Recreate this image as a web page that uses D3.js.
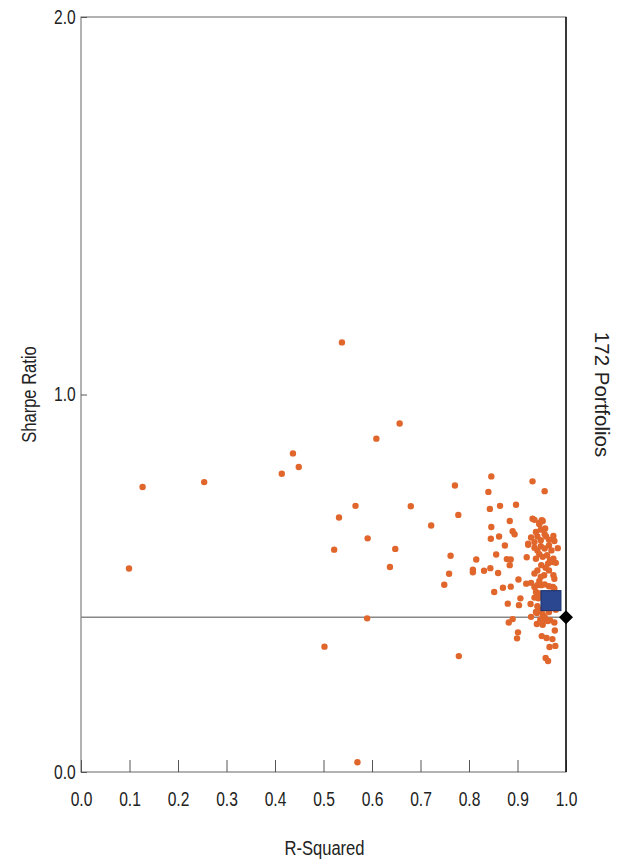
<!DOCTYPE html>
<html>
<head>
<meta charset="utf-8">
<script src="https://cdn.jsdelivr.net/npm/d3@7"></script>
<style>
  body { margin: 0; background: #fff; }
  svg text { font-family: "Liberation Sans", Arial, sans-serif; fill: #222; }
</style>
</head>
<body>
<div id="chart"></div>
<script>
// R-squared vs Sharpe ratio for the peer portfolios
const rSquared = [
  0.538, 0.657, 0.609, 0.437, 0.449, 0.414, 0.127, 0.254, 0.566, 0.680,
  0.532, 0.722, 0.591, 0.648, 0.522, 0.637, 0.099, 0.590, 0.502, 0.570,
  0.846, 0.771, 0.931, 0.956, 0.840, 0.864, 0.897, 0.843, 0.778, 0.846,
  0.884, 0.931, 0.945, 0.950, 0.957, 0.890, 0.894, 0.845, 0.862, 0.928,
  0.941, 0.959, 0.974, 0.874, 0.922, 0.983, 0.762, 0.856, 0.815, 0.878,
  0.886, 0.919, 0.884, 0.808, 0.808, 0.831, 0.844, 0.860, 0.759, 0.749,
  0.902, 0.918, 0.928, 0.886, 0.870, 0.852, 0.906, 0.880, 0.903, 0.927,
  0.928, 0.940, 0.890, 0.882, 0.940, 0.952, 0.962, 0.976, 0.901, 0.899,
  0.950, 0.960, 0.977, 0.972, 0.978, 0.966, 0.958, 0.963, 0.779,
  0.935, 0.945, 0.952, 0.938, 0.948, 0.956, 0.948, 0.935, 0.922, 0.965,
  0.976, 0.935, 0.941, 0.948, 0.956, 0.965, 0.970, 0.961, 0.952, 0.945,
  0.938, 0.967, 0.974, 0.963, 0.972, 0.979, 0.949, 0.958, 0.965, 0.941,
  0.935, 0.955, 0.974, 0.976, 0.948, 0.945, 0.941, 0.949, 0.956, 0.965,
  0.973, 0.976, 0.938, 0.945, 0.935, 0.941, 0.945, 0.938, 0.952, 0.956,
  0.943, 0.935, 0.954, 0.965, 0.979, 0.947, 0.958, 0.967
];
const sharpe = [
  1.138, 0.923, 0.883, 0.844, 0.808, 0.790, 0.755, 0.768, 0.705, 0.704,
  0.674, 0.653, 0.619, 0.591, 0.589, 0.543, 0.539, 0.407, 0.332, 0.026,
  0.783, 0.759, 0.770, 0.744, 0.742, 0.705, 0.708, 0.697, 0.681, 0.649,
  0.665, 0.671, 0.660, 0.667, 0.645, 0.638, 0.630, 0.618, 0.624, 0.621,
  0.624, 0.624, 0.625, 0.600, 0.602, 0.593, 0.573, 0.576, 0.563, 0.564,
  0.563, 0.569, 0.548, 0.536, 0.529, 0.533, 0.540, 0.527, 0.525, 0.496,
  0.510, 0.499, 0.501, 0.491, 0.488, 0.477, 0.460, 0.446, 0.442, 0.445,
  0.411, 0.421, 0.405, 0.396, 0.392, 0.390, 0.400, 0.396, 0.370, 0.354,
  0.360, 0.355, 0.375, 0.352, 0.334, 0.331, 0.302, 0.294, 0.307,
  0.668, 0.656, 0.665, 0.636, 0.642, 0.630, 0.614, 0.609, 0.605, 0.615,
  0.612, 0.594, 0.587, 0.598, 0.592, 0.600, 0.587, 0.574, 0.570, 0.577,
  0.565, 0.561, 0.565, 0.552, 0.556, 0.554, 0.548, 0.541, 0.534, 0.534,
  0.526, 0.521, 0.521, 0.512, 0.517, 0.506, 0.495, 0.495, 0.497, 0.492,
  0.490, 0.486, 0.477, 0.473, 0.490, 0.439, 0.429, 0.424, 0.418, 0.411,
  0.460, 0.462, 0.433, 0.424, 0.430, 0.404, 0.404, 0.402
];

// highlighted portfolio and benchmark
const portfolio = { r2: 0.969, sharpe: 0.454 };
const benchmark = { r2: 1.0, sharpe: 0.41 };

const xTicks = [0, 0.1, 0.2, 0.3, 0.4, 0.5, 0.6, 0.7, 0.8, 0.9, 1.0];
const yTicks = [0, 1, 2];
const xTitle = "R-Squared";
const yTitle = "Sharpe Ratio";
const countLabel = "172 Portfolios";

const margin = {top: 17, right: 61, bottom: 89, left: 81};
const width = 627 - margin.left - margin.right;
const height = 861 - margin.top - margin.bottom;

// tick labels are a narrow face in the original
const narrow = "scale(0.8,1)";

const svg = d3.select("#chart").append("svg")
  .attr("width", 627)
  .attr("height", 861);

const g = svg.append("g")
  .attr("transform", "translate(" + margin.left + "," + margin.top + ")");

const x = d3.scaleLinear().domain([0, 1]).range([0, width]);
const y = d3.scaleLinear().domain([0, 2]).range([height, 0]);

// frame
g.append("rect")
  .attr("width", width).attr("height", height)
  .attr("fill", "none").attr("stroke", "#666").attr("stroke-width", 1);

// inward ticks on x
const xAxis = g.append("g")
  .attr("transform", "translate(0," + height + ")")
  .call(d3.axisBottom(x).tickValues(xTicks).tickSizeInner(-12).tickSizeOuter(0)
    .tickPadding(20).tickFormat(d3.format(".1f")));
xAxis.select(".domain").remove();
xAxis.selectAll("line").attr("stroke", "#555");
xAxis.selectAll("text")
  .attr("font-size", 19.5).attr("fill", "#222").attr("transform", narrow);

const yAxis = g.append("g")
  .call(d3.axisLeft(y).tickValues(yTicks).tickSizeInner(-6).tickSizeOuter(0)
    .tickPadding(6.6).tickFormat(d3.format(".1f")));
yAxis.select(".domain").remove();
yAxis.selectAll("line").attr("stroke", "#555");
yAxis.selectAll("text")
  .attr("font-size", 19.5).attr("fill", "#222").attr("transform", narrow);

// benchmark sharpe line
g.append("line")
  .attr("x1", 0).attr("x2", width)
  .attr("y1", y(benchmark.sharpe)).attr("y2", y(benchmark.sharpe))
  .attr("stroke", "#888").attr("stroke-width", 1.3);

// R2 = 1 line
g.append("line")
  .attr("x1", x(1)).attr("x2", x(1))
  .attr("y1", 0).attr("y2", height)
  .attr("stroke", "#111").attr("stroke-width", 1.5);

const points = rSquared.map((d, i) => ({r2: d, sharpe: sharpe[i]}));

g.append("g").selectAll("circle")
  .data(points)
  .enter().append("circle")
    .attr("cx", d => x(d.r2))
    .attr("cy", d => y(d.sharpe))
    .attr("r", 3.2)
    .attr("fill", "#e0662c");

// portfolio square
g.append("rect")
  .attr("x", x(portfolio.r2) - 10)
  .attr("y", y(portfolio.sharpe) - 10)
  .attr("width", 20).attr("height", 20)
  .attr("fill", "#2a4790")
  .attr("stroke", "#1d336b").attr("stroke-width", 1);

// benchmark diamond
g.append("path")
  .attr("transform", "translate(" + x(benchmark.r2) + "," + y(benchmark.sharpe) + ")")
  .attr("d", "M0,-7L7,0L0,7L-7,0Z")
  .attr("fill", "#000");

svg.append("text")
  .attr("transform", "translate(" + (margin.left + x(0.5) + 1) + ",855) scale(0.85,1)")
  .attr("text-anchor", "middle").attr("font-size", 19.5)
  .text(xTitle);

svg.append("text")
  .attr("transform", "translate(36," + (margin.top + y(1)) + ") rotate(-90) scale(0.85,1)")
  .attr("text-anchor", "middle").attr("font-size", 19.5)
  .text(yTitle);

svg.append("text")
  .attr("transform", "translate(595," + (margin.top + y(1)) + ") rotate(90)")
  .attr("text-anchor", "middle").attr("font-size", 20.5)
  .text(countLabel);
</script>
</body>
</html>
